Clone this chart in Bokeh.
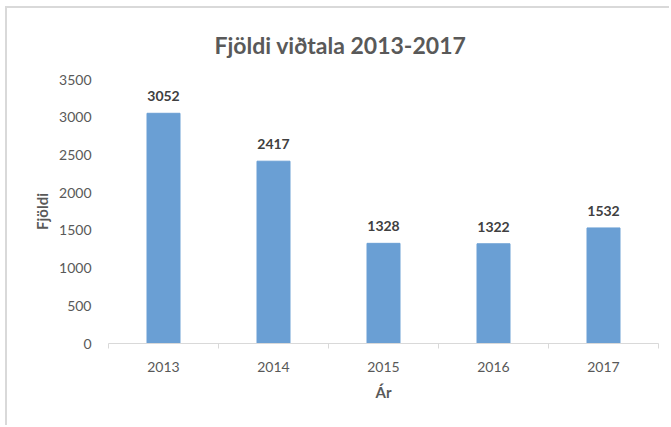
from bokeh.plotting import figure
from bokeh.models import FixedTicker, ColumnDataSource
from bokeh.core.properties import value
from bokeh.embed import file_html
from bokeh.resources import INLINE

years = ["2013", "2014", "2015", "2016", "2017"]
counts = [3052, 2417, 1328, 1322, 1532]
y_ticks = [0, 500, 1000, 1500, 2000, 2500, 3000, 3500]

xpos = [i + 0.5 for i in range(len(years))]
src = ColumnDataSource(dict(x=xpos, top=counts, lbl=[str(c) for c in counts]))

FONT = "Lato"
GREY = "#595959"

p = figure(width=664, height=419, output_backend="svg", toolbar_location=None,
           x_range=(0, len(years)), y_range=(0, 3500),
           min_border_left=101, min_border_right=13, min_border_top=70, min_border_bottom=84,
           title="Fjöldi viðtala 2013-2017",
           styles={"border-left": "2px solid #d9d9d9", "border-top": "2px solid #d9d9d9",
                   "margin-left": "5px", "margin-top": "6px"})

p.title.align = "left"
p.title.text_font = FONT
p.title.text_font_size = "23px"
p.title.text_color = GREY
p.title.text_font_style = "bold"
p.title.offset = 106
p.title.standoff = 41

p.vbar(x="x", top="top", width=0.3, source=src, color="#6A9FD4")
p.text(x="x", y="top", text="lbl", source=src, text_align="center", text_baseline="bottom",
       y_offset=-12, text_font=value(FONT), text_font_size="14px", text_font_style="bold",
       text_color="#404040")

p.grid.visible = False
p.outline_line_color = None

xa = p.xaxis[0]
xa.ticker = FixedTicker(ticks=xpos, minor_ticks=list(range(len(years) + 1)))
xa.major_label_overrides = {x: y for x, y in zip(xpos, years)}
xa.major_tick_line_color = None
xa.minor_tick_out = 5
xa.minor_tick_in = 0
xa.minor_tick_line_color = "#d9d9d9"
xa.axis_line_color = "#d9d9d9"
xa.axis_line_width = 1
xa.major_label_text_font = FONT
xa.major_label_text_font_size = "14px"
xa.major_label_text_color = GREY
xa.major_label_standoff = 12
xa.axis_label = "Ár"
xa.axis_label_text_font = FONT
xa.axis_label_text_font_size = "15px"
xa.axis_label_text_font_style = "bold"
xa.axis_label_text_color = GREY
xa.axis_label_standoff = 8

ya = p.yaxis[0]
ya.ticker = FixedTicker(ticks=y_ticks)
ya.axis_line_color = None
ya.major_tick_line_color = None
ya.minor_tick_line_color = None
ya.major_label_text_font = FONT
ya.major_label_text_font_size = "14px"
ya.major_label_text_color = GREY
ya.major_label_standoff = 11
ya.axis_label = "Fjöldi"
ya.axis_label_text_font = FONT
ya.axis_label_text_font_size = "15px"
ya.axis_label_text_font_style = "bold"
ya.axis_label_text_color = GREY
ya.axis_label_standoff = 5

open("out.html", "w").write(file_html(p, INLINE))
